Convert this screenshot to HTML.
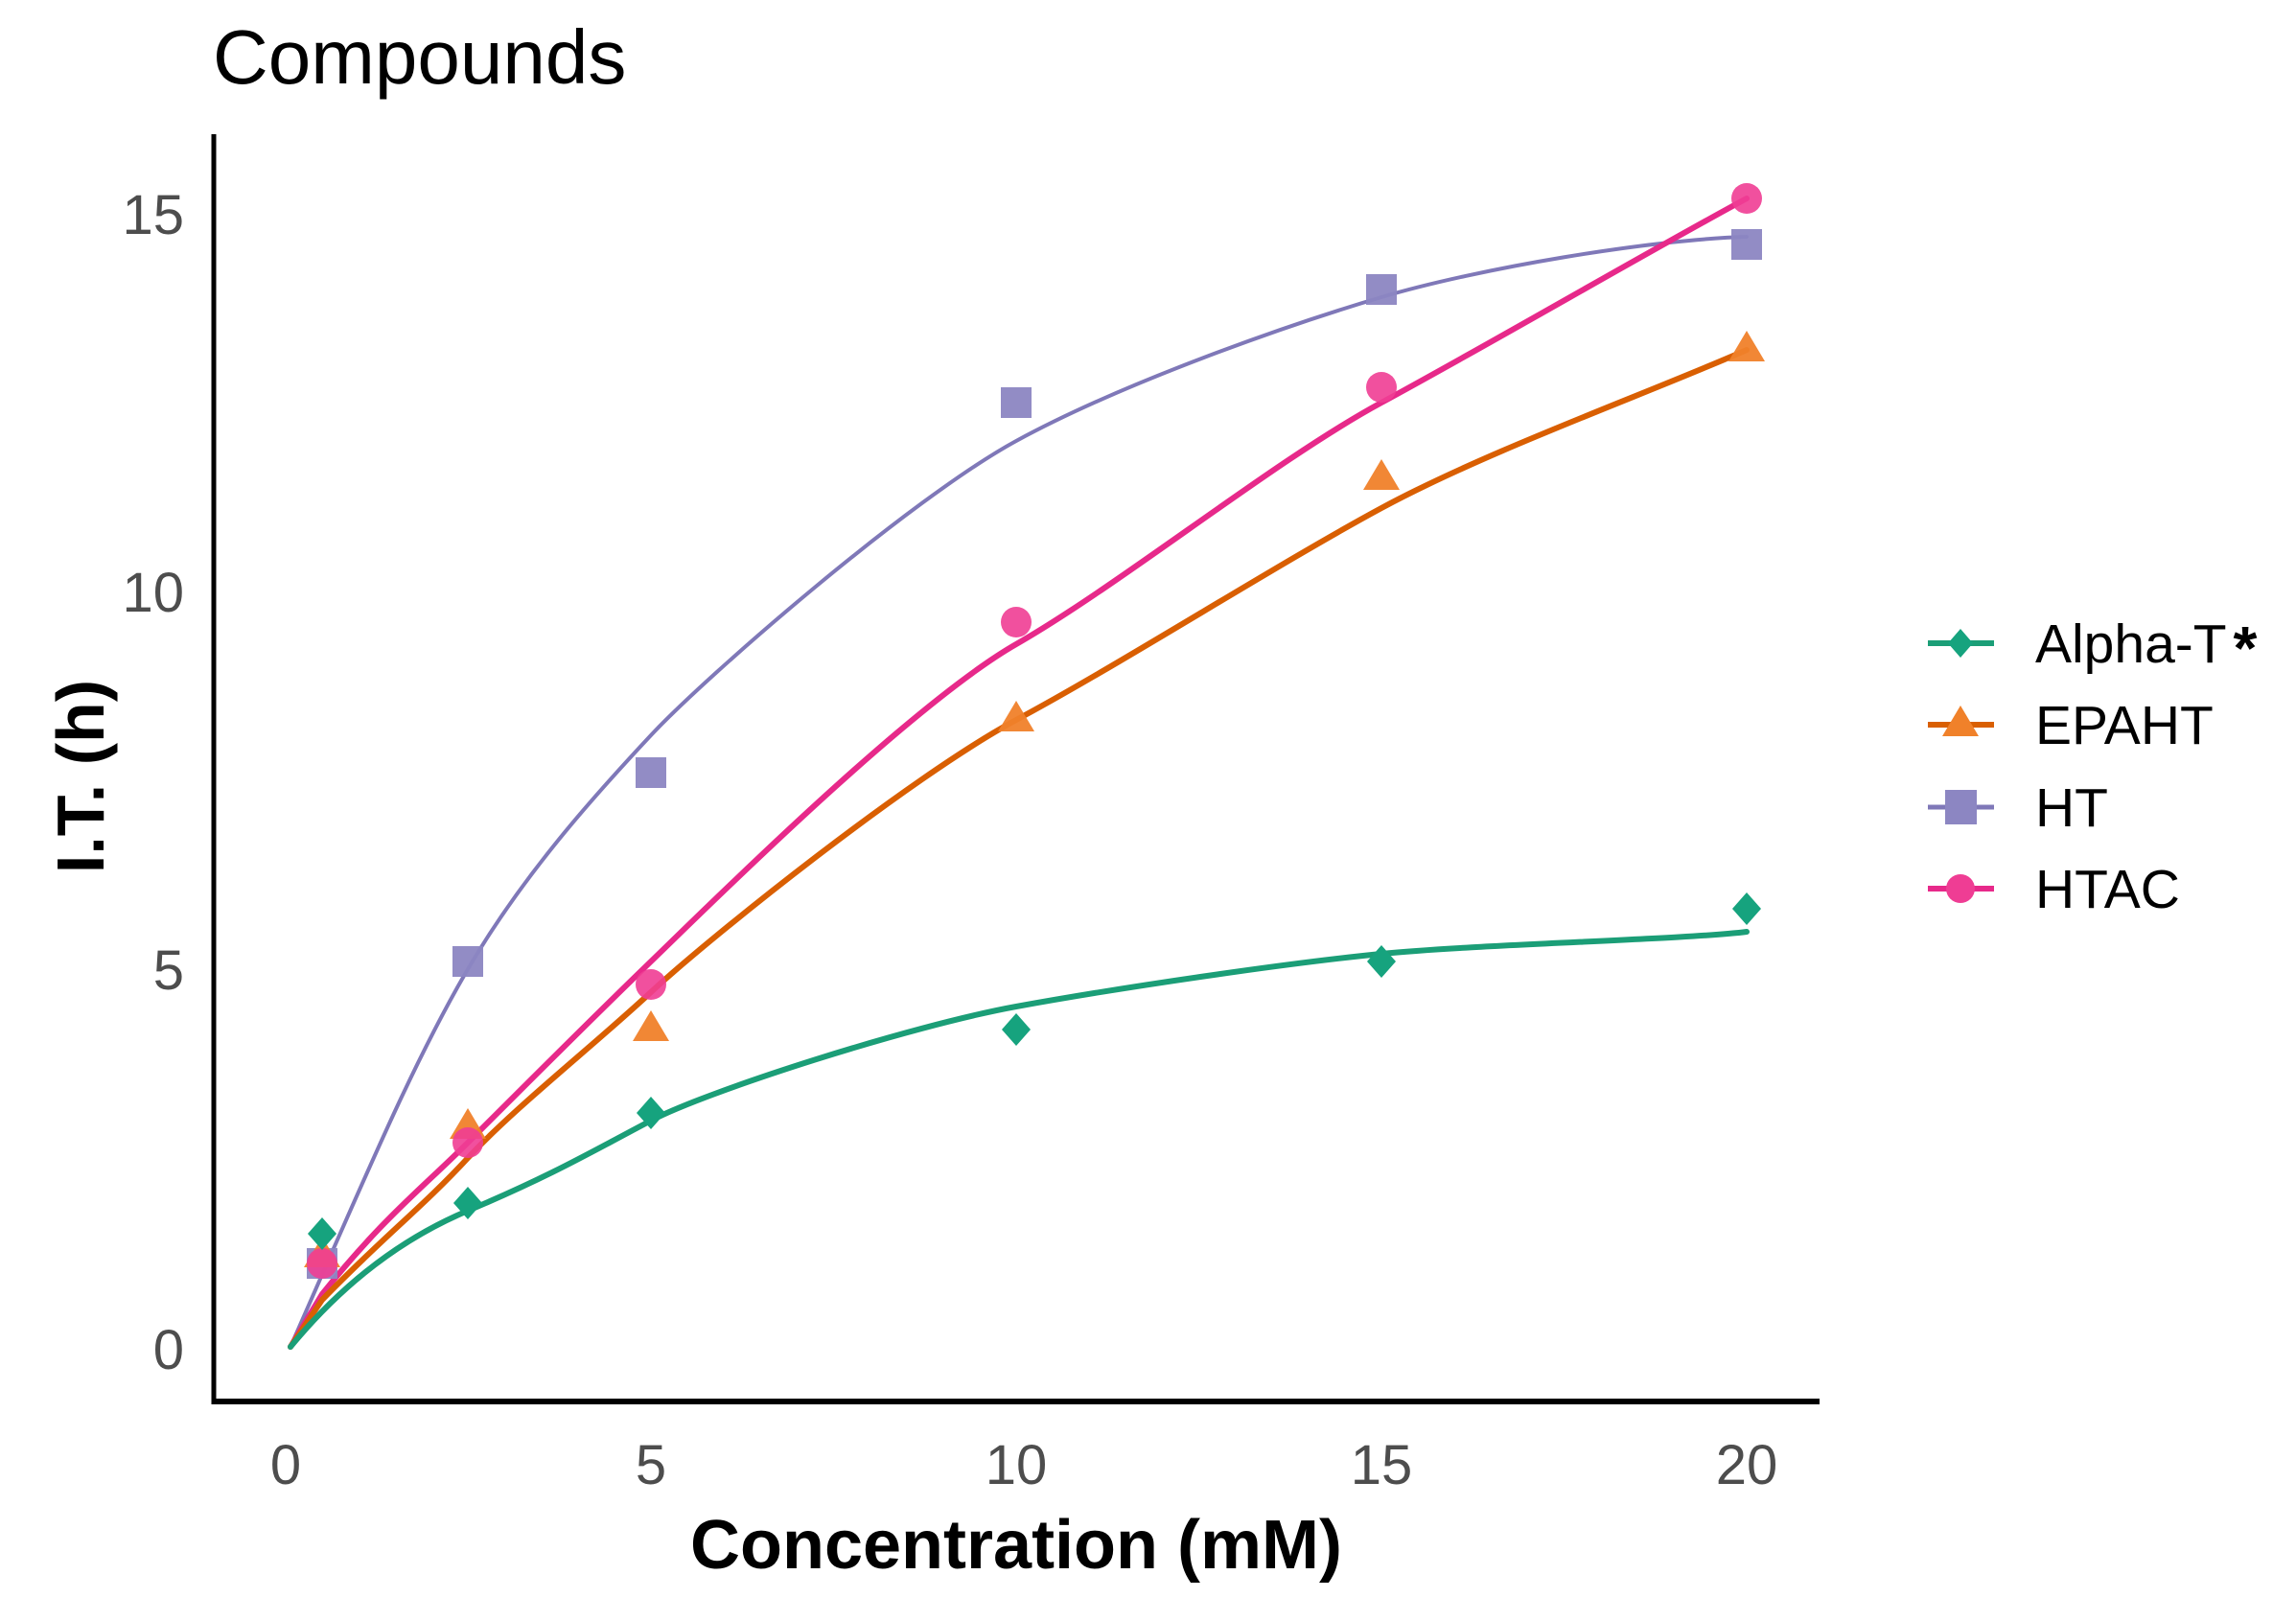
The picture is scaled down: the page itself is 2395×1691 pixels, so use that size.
<!DOCTYPE html>
<html><head><meta charset="utf-8"><style>
html,body{margin:0;padding:0;background:#fff;}
svg{display:block;}
text{font-family:"Liberation Sans",Arial,sans-serif;}
</style></head><body>
<svg width="2395" height="1691" viewBox="0 0 2395 1691" xmlns="http://www.w3.org/2000/svg">
<rect width="2395" height="1691" fill="#fff"/>
<text x="222" y="87" font-size="80" fill="#000">Compounds</text>
<!-- axes -->
<line x1="223" y1="140" x2="223" y2="1465" stroke="#000" stroke-width="5"/>
<line x1="221" y1="1462" x2="1898" y2="1462" stroke="#000" stroke-width="6"/>
<!-- y tick labels -->
<g font-size="58" fill="#4d4d4d" text-anchor="end">
<text x="192" y="1428">0</text>
<text x="192" y="1032">5</text>
<text x="192" y="638">10</text>
<text x="192" y="244">15</text>
</g>
<g font-size="58" fill="#4d4d4d" text-anchor="middle">
<text x="298" y="1548">0</text>
<text x="679" y="1548">5</text>
<text x="1060" y="1548">10</text>
<text x="1441" y="1548">15</text>
<text x="1822" y="1548">20</text>
</g>
<text x="1060" y="1636" font-size="72" font-weight="bold" text-anchor="middle" fill="#000">Concentration (mM)</text>
<text transform="translate(108,810) rotate(-90)" font-size="70" font-weight="bold" text-anchor="middle" fill="#000">I.T. (h)</text>

<!-- curves -->
<g fill="none" stroke-linejoin="round" stroke-linecap="round">
<path stroke="#7f78b8" stroke-width="4" d="M303,1405 C380,1230 430,1110 488,1011 S620,830 679,767 S950,520 1060,460 S1340,340 1441,310 S1720,250 1822,247"/>
<path stroke="#e7298a" stroke-width="6" d="M303,1405 L336,1350 C400,1270 440,1240 488,1192 S620,1060 679,1003 S950,735 1060,672 S1330,480 1441,420 S1720,262 1822,207"/>
<path stroke="#d95f02" stroke-width="6" d="M303,1405 L336,1356 C400,1290 440,1260 488,1208 S620,1090 679,1035 S950,810 1060,751 S1330,590 1441,530 S1720,410 1822,365"/>
<path stroke="#1b9e77" stroke-width="6" d="M303,1405 C340,1360 400,1300 488,1263 S620,1200 679,1169 S950,1070 1060,1050 S1340,1005 1441,995 S1760,980 1822,972"/>
</g>

<!-- markers -->
<g fill="#8c86c2" opacity="0.95">
<rect x="320" y="1302" width="32" height="32"/>
<rect x="472" y="987" width="32" height="32"/>
<rect x="663" y="790" width="32" height="32"/>
<rect x="1044" y="404" width="32" height="32"/>
<rect x="1425" y="286" width="32" height="32"/>
<rect x="1806" y="239" width="32" height="32"/>
</g>
<g fill="#f0812a" opacity="0.95">
<polygon points="336,1290 355,1322 317,1322"/>
<polygon points="488,1156 507,1188 469,1188"/>
<polygon points="679,1054 698,1086 660,1086"/>
<polygon points="1060,731 1079,763 1041,763"/>
<polygon points="1441,479 1460,511 1422,511"/>
<polygon points="1822,345 1841,377 1803,377"/>
</g>
<g fill="#ef3d94" opacity="0.9">
<circle cx="336" cy="1318" r="16"/>
<circle cx="488" cy="1192" r="16"/>
<circle cx="679" cy="1027" r="16"/>
<circle cx="1060" cy="649" r="16"/>
<circle cx="1441" cy="404" r="16"/>
<circle cx="1822" cy="207" r="16"/>
</g>
<g fill="#16a37e">
<polygon points="336,1270 351,1287 336,1304 321,1287"/>
<polygon points="488,1238 503,1255 488,1272 473,1255"/>
<polygon points="679,1144 694,1161 679,1178 664,1161"/>
<polygon points="1060,1057 1075,1074 1060,1091 1045,1074"/>
<polygon points="1441,986 1456,1003 1441,1020 1426,1003"/>
<polygon points="1822,931 1837,948 1822,965 1807,948"/>
</g>

<!-- legend -->
<g>
<line x1="2011" y1="671" x2="2080" y2="671" stroke="#1b9e77" stroke-width="6"/>
<polygon points="2045,656 2058,671 2045,686 2032,671" fill="#16a37e"/>
<line x1="2011" y1="756" x2="2080" y2="756" stroke="#d95f02" stroke-width="6"/>
<polygon points="2045,736 2064,768 2026,768" fill="#f0812a"/>
<line x1="2011" y1="842" x2="2080" y2="842" stroke="#7f78b8" stroke-width="5"/>
<rect x="2029" y="824" width="33" height="36" fill="#8c86c2"/>
<line x1="2011" y1="927" x2="2080" y2="927" stroke="#e7298a" stroke-width="6"/>
<circle cx="2045" cy="927" r="15" fill="#ef3d94"/>
</g>
<g font-size="57" fill="#000">
<text x="2123" y="691">Alpha-T</text>
<text x="2123" y="776">EPAHT</text>
<text x="2123" y="862">HT</text>
<text x="2123" y="947">HTAC</text>
</g>
<text x="2342" y="698" font-size="64" font-weight="bold" text-anchor="middle" fill="#000">*</text>
</svg>
</body></html>
